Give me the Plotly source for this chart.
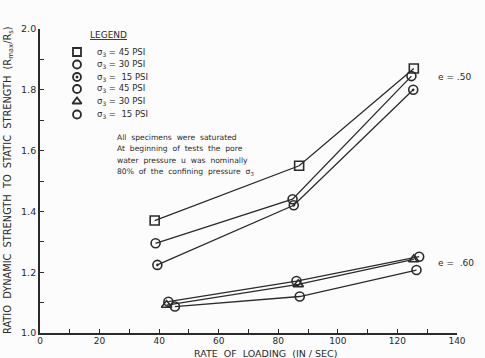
import plotly.graph_objects as go

# ---- data ----
rate_45_50 = [38.5, 87.0, 125.5]
ratio_45_50 = [1.37, 1.55, 1.87]
rate_30_50 = [38.8, 84.8, 124.7]
ratio_30_50 = [1.295, 1.44, 1.845]
rate_15_50 = [39.4, 85.2, 125.3]
ratio_15_50 = [1.224, 1.42, 1.80]
rate_45_60 = [43.1, 86.1, 127.3]
ratio_45_60 = [1.103, 1.171, 1.251]
rate_30_60 = [42.5, 86.7, 125.5]
ratio_30_60 = [1.092, 1.16, 1.242]
rate_15_60 = [45.3, 87.2, 126.4]
ratio_15_60 = [1.087, 1.12, 1.207]

legend_labels = ["σ<sub>3</sub> = 45 PSI", "σ<sub>3</sub> = 30 PSI", "σ<sub>3</sub> =  15 PSI",
                 "σ<sub>3</sub> = 45 PSI", "σ<sub>3</sub> = 30 PSI", "σ<sub>3</sub> =  15 PSI"]
symbols = ["square-open", "circle-open", "circle-open-dot", "circle-open", "triangle-up-open", "circle-open"]
xs = [rate_45_50, rate_30_50, rate_15_50, rate_45_60, rate_30_60, rate_15_60]
ys = [ratio_45_50, ratio_30_50, ratio_15_50, ratio_45_60, ratio_30_60, ratio_15_60]

x_ticks = [0, 20, 40, 60, 80, 100, 120, 140]
y_ticks = [1.0, 1.2, 1.4, 1.6, 1.8, 2.0]
y_tick_text = ["1.0", "1.2", "1.4", "1.6", "1.8", "2.0"]

note_lines = ["All  specimens  were  saturated",
              "At  beginning  of  tests  the  pore",
              "water  pressure  u  was  nominally",
              "80%  of  the  confining  pressure  σ<sub>3</sub>"]

INK = "#2b2b2b"
FONT = "DejaVu Sans"
W, H = 485, 358
ML, MR, MT, MB = 40, 28, 29, 25

fig = go.Figure()
for x, y, s in zip(xs, ys, symbols):
    fig.add_trace(go.Scatter(
        x=x, y=y, mode="lines+markers",
        line=dict(color=INK, width=1.3),
        marker=dict(symbol=s, size=9, color=INK, line=dict(width=1.6, color=INK)),
        showlegend=False, hoverinfo="skip"))

# legend keys on an overlay axis spanning the plot area
def px_x(p):
    return (p - ML) / (W - ML - MR)

def px_y(p):
    return (H - MB - p) / (H - MT - MB)

leg_rows = [52, 64.5, 77, 89, 101.5, 114.5]
fig.add_trace(go.Scatter(
    x=[px_x(77)] * len(symbols), y=[px_y(r) for r in leg_rows], mode="markers",
    marker=dict(symbol=symbols, size=8, color=INK, line=dict(width=1.8, color=INK)),
    xaxis="x2", yaxis="y2", showlegend=False, hoverinfo="skip"))

annotations = []
annotations.append(dict(text="<u>LEGEND</u>", x=88, y=35,
                        showarrow=False, xanchor="left", yanchor="middle",
                        font=dict(family=FONT, size=9, color=INK)))
for lab, r in zip(legend_labels, leg_rows):
    annotations.append(dict(text=lab, x=95, y=r, showarrow=False, xanchor="left", yanchor="middle",
                            font=dict(family=FONT, size=8.5, color=INK)))
for i, line in enumerate(note_lines):
    annotations.append(dict(text=line, x=115, y=137 + i * 11.5, showarrow=False,
                            xanchor="left", yanchor="middle",
                            font=dict(family=FONT, size=7.6, color=INK)))
annotations.append(dict(text="e = .50", x=436, y=77, showarrow=False, xanchor="left", yanchor="middle",
                        font=dict(family=FONT, size=9, color=INK)))
annotations.append(dict(text="e =  .60", x=436, y=263, showarrow=False, xanchor="left", yanchor="middle",
                        font=dict(family=FONT, size=9, color=INK)))
annotations.append(dict(text="RATE  OF  LOADING  (IN / SEC)", x=265, y=353, showarrow=False,
                        xanchor="center", yanchor="middle",
                        font=dict(family=FONT, size=9.5, color=INK)))
annotations.append(dict(text="RATIO  DYNAMIC  STRENGTH  TO  STATIC  STRENGTH  (R<sub>max</sub>/R<sub>s</sub>)",
                        x=8, y=180, showarrow=False, textangle=-90,
                        xanchor="center", yanchor="middle",
                        font=dict(family=FONT, size=9.8, color=INK)))
# convert pixel positions to paper fractions of the plot area
for a in annotations:
    a["x"] = px_x(a["x"])
    a["y"] = px_y(a["y"])
    a["xref"] = "paper"
    a["yref"] = "paper"

fig.update_layout(
    width=W, height=H,
    margin=dict(l=ML, r=MR, t=MT, b=MB, autoexpand=False),
    paper_bgcolor="#fcfcfc", plot_bgcolor="#fcfcfc",
    annotations=annotations,
    xaxis=dict(range=[0, 140], tickvals=x_ticks, ticktext=[str(v) for v in x_ticks],
               showgrid=False, zeroline=False,
               showline=True, linecolor=INK, linewidth=1.8,
               ticks="inside", ticklen=4, tickcolor=INK, tickwidth=1.2,
               ticklabelstandoff=-2,
               minor=dict(tickvals=list(range(10, 140, 20)), ticks="inside", ticklen=4,
                          tickcolor=INK, tickwidth=1.2),
               tickfont=dict(family=FONT, size=9, color=INK)),
    yaxis=dict(range=[1.0, 2.0], tickvals=y_ticks, ticktext=y_tick_text,
               showgrid=False, zeroline=False,
               showline=True, linecolor=INK, linewidth=1.8,
               ticks="inside", ticklen=4, tickcolor=INK, tickwidth=1.2,
               minor=dict(tickvals=[1.1, 1.3, 1.5, 1.7, 1.9], ticks="inside", ticklen=4,
                          tickcolor=INK, tickwidth=1.2),
               tickfont=dict(family=FONT, size=9.5, color=INK)),
    xaxis2=dict(range=[0, 1], overlaying="x", visible=False),
    yaxis2=dict(range=[0, 1], overlaying="y", visible=False),
)

fig.write_html("out.html")
